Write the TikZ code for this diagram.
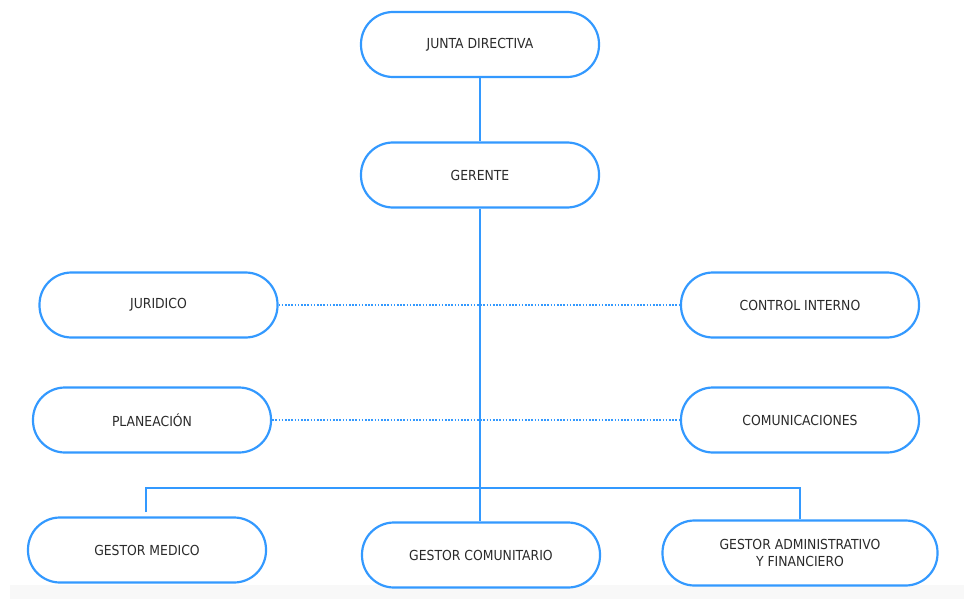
\documentclass[tikz,border=0pt]{standalone}
\usepackage{fontspec}
\setmainfont{DejaVu Sans}
\newfontfamily\boxfont{DejaVu Sans Condensed}
\definecolor{orgblue}{HTML}{3399FF}
\definecolor{orgtext}{HTML}{2A2A2A}
\definecolor{footgray}{HTML}{F8F8F8}
\begin{document}
\begin{tikzpicture}[x=1pt,y=-1pt,
  unit/.style={draw=orgblue, line width=2.2pt, fill=white, rounded corners=32pt,
    minimum width=238pt, minimum height=65pt, inner sep=0pt,
    font=\boxfont\fontsize{13.8}{17}\selectfont, text=orgtext, align=center},
  link/.style={draw=orgblue, line width=2pt},
  staff/.style={draw=orgblue, line width=1.6pt, dash pattern=on 1.6pt off 1.6pt}]
  \useasboundingbox (0,0) rectangle (964,599);
  \fill[footgray] (10,585) rectangle (964,599);

  % hierarchy
  \node[unit] (junta) at (480,44.5) {JUNTA DIRECTIVA};
  \node[unit] (gerente) at (480,175) {GERENTE};
  \node[unit] (juridico) at (158.5,305) {JURIDICO};
  \node[unit] (control) at (800,305) {CONTROL INTERNO};
  \node[unit] (planeacion) at (152,420) {PLANEACIÓN};
  \node[unit] (comunic) at (800,420) {COMUNICACIONES};
  \node[unit] (medico) at (147,550) {GESTOR MEDICO};
  \node[unit] (comunit) at (481,555) {GESTOR COMUNITARIO};
  \node[unit, minimum width=275pt] (admin) at (800,553) {GESTOR ADMINISTRATIVO\\Y FINANCIERO};

  % reporting lines
  \draw[link] (junta.south) -- (gerente.north);
  \draw[link] (gerente.south) -- (gerente.south |- comunit.north);
  \coordinate (medtop) at (146,512);
  \coordinate (barleft) at (146,488);
  \draw[link] (medtop) -- (barleft) -| (admin.north);

  % advisory (dotted) lines
  \draw[staff] (juridico.east) -- (control.west);
  \draw[staff] (planeacion.east) -- (comunic.west);
\end{tikzpicture}
\end{document}
